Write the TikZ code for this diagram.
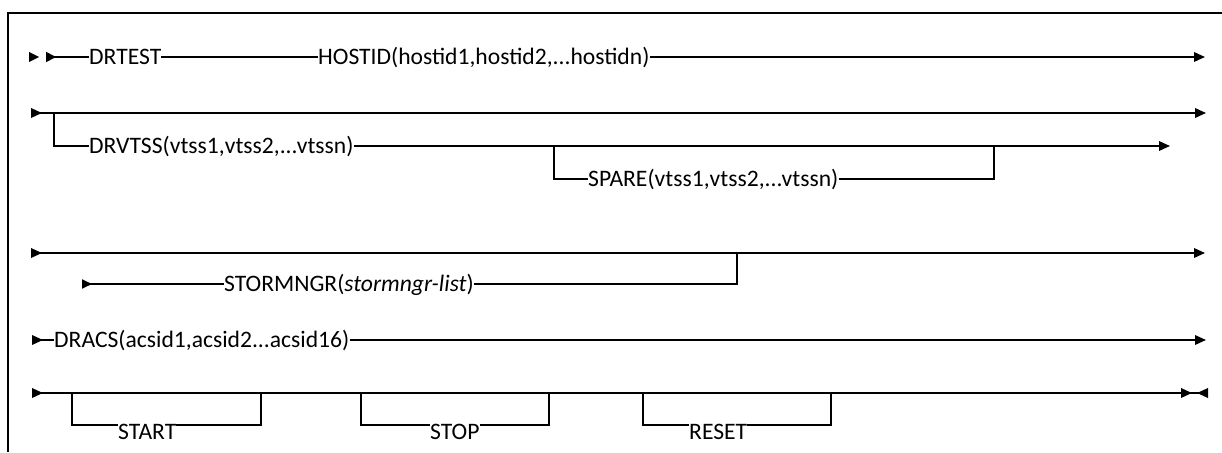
\documentclass[tikz,border=0pt]{standalone}
\usepackage{fontspec}
\setmainfont{Carlito}
\usetikzlibrary{arrows.meta}
\newcommand{\railfont}{\fontsize{23.6pt}{28pt}\selectfont}
\tikzset{
  rail/.style={line width=1.8pt},
  frameline/.style={line width=1.9pt},
  lbl/.style={inner sep=0pt, text height=15.2pt, text depth=0pt, anchor=west, font=\railfont},
  lblbase/.style={inner sep=0pt, anchor=base west, font=\railfont},
  endtip/.style={-{Triangle[length=11pt,width=9.5pt]}},
  starttip/.style={{Triangle[reversed,length=11pt,width=9.5pt]}-},
  bothtip/.style={{Triangle[reversed,length=11pt,width=9.5pt]}-{Triangle[length=11pt,width=9.5pt]}},
  closetip/.style={{Triangle[reversed,length=11pt,width=9.5pt]}-{Triangle[length=11pt,width=9.5pt,sep=5pt] Triangle[reversed,length=11pt,width=9.5pt]}},
}
\begin{document}
\begin{tikzpicture}[x=1pt,y=-1pt]
\useasboundingbox (0,0) rectangle (1222,452);

% frame
\draw[frameline] (8,452) -- (8,12.7) -- (1222,12.7);

% DRTEST HOSTID(...): double start mark, then the main rail
\coordinate (r1s) at (29,57);
\coordinate (r1m) at (46,57);
\coordinate (r1e) at (1205,57);
\node[lbl] (drtest) at (89,57) {DRTEST};
\node[lbl] (hostid) at (318,57) {HOSTID(hostid1,hostid2,...hostidn)};
\fill (r1s) ++(0,-5) -- ++(10,5) -- ++(-10,5) -- cycle;
\draw[rail,{Triangle[reversed,length=10pt,width=10pt]}-] (r1m) -- (drtest.west);
\draw[rail] (drtest.east) -- (hostid.west);
\draw[rail,endtip] (hostid.east) -- (r1e);

% optional DRVTSS with optional SPARE
\coordinate (r2s) at (31,113);
\coordinate (r2e) at (1206,113);
\coordinate (r2b) at (54,113);
\draw[rail,bothtip] (r2s) -- (r2e);
\node[lbl] (drvtss) at (89,146) {DRVTSS(vtss1,vtss2,...vtssn)};
\coordinate (r3e) at (1170,146);
\draw[rail] (r2b) |- (drvtss.west);
\draw[rail,endtip] (drvtss.east) -- (r3e);
\coordinate (sp1) at (554,146);
\coordinate (sp2) at (994,146);
\node[lbl] (spare) at (588,179) {SPARE(vtss1,vtss2,...vtssn)};
\draw[rail] (sp1) |- (spare.west);
\draw[rail] (spare.east) -| (sp2);

% STORMNGR
\coordinate (r4s) at (31,253);
\coordinate (r4e) at (1205,253);
\draw[rail,bothtip] (r4s) -- (r4e);
\coordinate (sms) at (82,284);
\coordinate (smj) at (737,253);
\node[lbl] (storm) at (224,284) {STORMNGR(\textit{stormngr-list})};
\draw[rail,{Triangle[reversed,length=10pt,width=9pt]}-] (sms) -- (storm.west);
\draw[rail] (storm.east) -| (smj);

% DRACS
\coordinate (r5s) at (32,340);
\coordinate (r5e) at (1206,340);
\node[lbl] (dracs) at (54,340) {DRACS(acsid1,acsid2...acsid16)};
\draw[rail,starttip] (r5s) -- (dracs.west);
\draw[rail,endtip] (dracs.east) -- (r5e);

% START STOP RESET
\coordinate (r6s) at (32,393);
\coordinate (r6e) at (1208,393);
\draw[rail,closetip] (r6s) -- (r6e);

\coordinate (st1) at (72,393);
\coordinate (st2) at (261,393);
\node[lblbase] (start) at (118,439) {START};
\draw[rail] (st1) |- ([yshift=13.9pt]start.base west);
\draw[rail] ([yshift=13.9pt]start.base east) -| (st2);

\coordinate (sp3) at (361,393);
\coordinate (sp4) at (549,393);
\node[lblbase] (stop) at (430,439) {STOP};
\draw[rail] (sp3) |- ([yshift=13.9pt]stop.base west);
\draw[rail] ([yshift=13.9pt]stop.base east) -| (sp4);

\coordinate (rs1) at (643,393);
\coordinate (rs2) at (831,393);
\node[lblbase] (reset) at (689,439) {RESET};
\draw[rail] (rs1) |- ([yshift=13.9pt]reset.base west);
\draw[rail] ([yshift=13.9pt]reset.base east) -| (rs2);
\end{tikzpicture}
\end{document}
